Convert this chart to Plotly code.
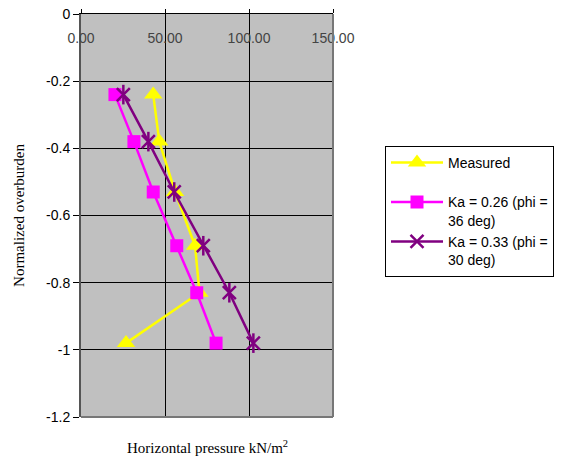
import plotly.graph_objects as go

depth = [-0.24, -0.38, -0.53, -0.69, -0.83, -0.98]
measured = [43.0, 46.6, 56.0, 67.9, 70.5, 26.8]
ka026 = [20.2, 31.5, 43.0, 57.0, 68.9, 80.4]
ka033 = [25.2, 40.1, 55.5, 72.8, 88.3, 102.6]

x_ticks = [0, 50, 100, 150]
x_tick_labels = ["0.00", "50.00", "100.00", "150.00"]
y_ticks = [0, -0.2, -0.4, -0.6, -0.8, -1.0, -1.2]
y_tick_labels = ["0", "-0.2", "-0.4", "-0.6", "-0.8", "-1", "-1.2"]

fig = go.Figure()
fig.add_trace(go.Scatter(
    x=measured, y=depth, mode="lines+markers", name="Measured<br> ",
    line=dict(color="#FFFF00", width=2.5),
    marker=dict(symbol="triangle-up", size=16, color="#FFFF00"),
))
fig.add_trace(go.Scatter(
    x=ka026, y=depth, mode="lines+markers", name="Ka = 0.26 (phi =<br>36 deg)",
    line=dict(color="#FF00FF", width=2.5),
    marker=dict(symbol="square", size=13, color="#FF00FF"),
))
fig.add_trace(go.Scatter(
    x=ka033, y=depth, mode="lines+markers", name="Ka = 0.33 (phi =<br>30 deg)",
    line=dict(color="#800080", width=2.5),
    marker=dict(symbol="x-thin-open", size=13, color="#800080",
                line=dict(color="#800080", width=2.5)),
))
fig.add_trace(go.Scatter(
    x=ka033, y=depth, mode="markers", showlegend=False, hoverinfo="skip",
    marker=dict(symbol="line-ns-open", size=14, color="#800080",
                line=dict(color="#800080", width=2.5)),
))

fig.update_layout(
    width=575, height=457,
    margin=dict(l=81, r=242, t=14, b=40),
    paper_bgcolor="white",
    plot_bgcolor="#C0C0C0",
    font=dict(family="Liberation Sans, Arial", size=13, color="black"),
    showlegend=True,
    legend=dict(
        xanchor="left", yanchor="top",
        bgcolor="white", bordercolor="black", borderwidth=1,
        font=dict(family="Liberation Sans, Arial", size=14, color="black"),
        valign="top", tracegroupgap=7, itemwidth=52,
    ),
)
fig.layout.legend.x = (385 - 81) / (575 - 81 - 242)
fig.layout.legend.y = 1 - (146 - 14) / (457 - 14 - 40)

fig.update_xaxes(
    range=[0, 150], side="top", automargin=False,
    tickvals=x_ticks, ticktext=x_tick_labels,
    ticklabelposition="inside", ticklabeloverflow="allow",
    ticklabelstandoff=19,
    ticks="outside", ticklen=4, tickcolor="black",
    showgrid=True, gridcolor="black", gridwidth=1,
    showline=True, linecolor="black", linewidth=1, mirror=False,
    zeroline=False,
    tickfont=dict(family="Liberation Sans, Arial", size=14),
    title=None,
)
fig.update_yaxes(
    range=[-1.2, 0], automargin=False,
    tickvals=y_ticks, ticktext=y_tick_labels,
    ticks="outside", ticklen=6, tickcolor="black",
    showgrid=True, gridcolor="black", gridwidth=1,
    showline=True, linecolor="#555555", linewidth=2,
    zeroline=False,
    tickfont=dict(family="Liberation Sans, Arial", size=14),
    title=dict(text="Normalized overburden",
               font=dict(family="Liberation Serif, Times New Roman", size=15),
               standoff=18),
)
fig.add_annotation(
    text="Horizontal pressure kN/m<sup>2</sup>", xref="paper", yref="paper",
    x=0.5, y=-30/403, xanchor="center", yanchor="middle", showarrow=False,
    font=dict(family="Liberation Serif, Times New Roman", size=15, color="black"),
)
# bottom/right plot border
fig.add_shape(type="line", xref="paper", yref="paper", x0=0, x1=1, y0=0, y1=0,
              line=dict(color="#777777", width=2))
fig.add_shape(type="line", xref="paper", yref="paper", x0=1, x1=1, y0=0, y1=1,
              line=dict(color="#777777", width=2))

fig.write_html("out.html")
